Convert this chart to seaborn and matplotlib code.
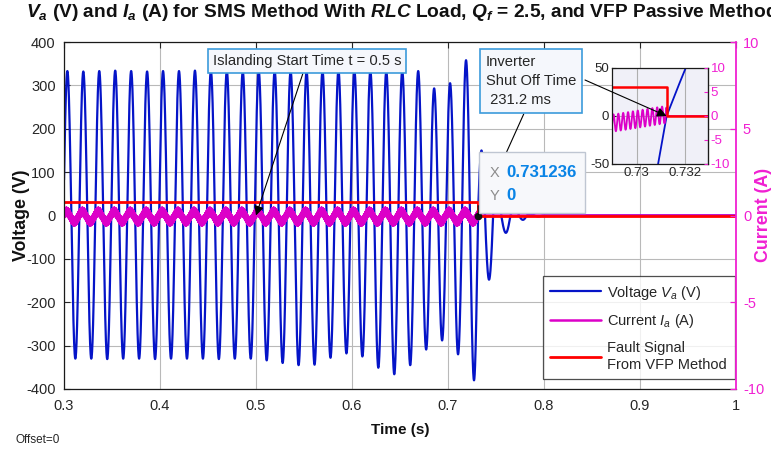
import numpy as np
import pandas as pd
import matplotlib
matplotlib.use("Agg")
import matplotlib.pyplot as plt
from matplotlib.patches import Rectangle
import seaborn as sns

# ---------------- data ----------------
shutoff_time = 0.731236          # inverter shut-off (datatip X)
islanding_time = 0.5
grid_freq = 60.2                 # Hz, fundamental
# alternating lobes before shut-off: trough, peak, trough, ... , peak, trough (V)
trough_v = [-330, -330, -330, -331, -330, -330, -331, -330, -330, -330, -331, -330, -330,
            -334, -340, -345, -344, -328, -318, -325, -351, -366, -345, -309, -288, -320, -380]
peak_v = [333, 332, 333, 334, 333, 332, 333, 333, 334, 333, 333, 332, 333,
          333, 333, 332, 333, 334, 333, 333, 332, 333, 333, 293, 305, 358]
# decaying voltage after shut-off: lobe end times (s) and lobe extremes (V)
decay_end_t = [0.7385, 0.7470, 0.7555, 0.7650, 0.7740, 0.7820, 0.7900, 0.7980]
decay_v = [150, -148, 60, -40, 15, -10, 4, -2]
# current (plotted in the voltage scale, as in the reference)
curr_offset = -2.5
curr_amp = 11.0
curr_lead = 0.001
ripple_amp = 9.0
ripple_freq = 5000.0
# fault signal from VFP method
fault_t = [0.3, shutoff_time, shutoff_time, 1.0]
fault_v = [30, 30, 0, 0]

x_ticks = [0.3, 0.4, 0.5, 0.6, 0.7, 0.8, 0.9, 1.0]
x_ticklabels = ["0.3", "0.4", "0.5", "0.6", "0.7", "0.8", "0.9", "1"]
yl_ticks = [-400, -300, -200, -100, 0, 100, 200, 300, 400]
yr_ticks = [-10, -5, 0, 5, 10]

# ---------------- build waveforms ----------------
half = 1.0 / (2 * grid_freq)
pre_amps = []
for k in range(len(peak_v)):
    pre_amps += [trough_v[k], peak_v[k]]
pre_amps.append(trough_v[-1])
n_pre = len(pre_amps)
edges = [shutoff_time - (n_pre - j) * half for j in range(n_pre + 1)]
edges += decay_end_t
amps = pre_amps + decay_v

t = np.arange(0.3, 1.0 + 1e-9, 1e-5)


def lobes(tt):
    v = np.zeros_like(tt)
    for a, b, A in zip(edges[:-1], edges[1:], amps):
        m = (tt >= a) & (tt < b)
        v[m] = A * np.sin(np.pi * (tt[m] - a) / (b - a))
    return v


volt = lobes(t)
curr = (curr_offset - curr_amp * np.sin(2 * np.pi * grid_freq * (t - edges[0] + curr_lead))
        + ripple_amp * np.sin(2 * np.pi * ripple_freq * t))
curr[t >= shutoff_time] = 0.0

df = pd.DataFrame({"t": t, "v": volt, "i": curr})
df_fault = pd.DataFrame({"t": fault_t, "f": fault_v})

# ---------------- style ----------------
sns.set_style("white")
plt.rcParams["font.family"] = ["Liberation Sans", "DejaVu Sans"]
plt.rcParams["mathtext.fontset"] = "custom"
plt.rcParams["mathtext.rm"] = "Liberation Sans"
plt.rcParams["mathtext.it"] = "Liberation Sans:italic"
plt.rcParams["mathtext.bf"] = "Liberation Sans:bold"
try:
    plt.rcParams["mathtext.bfit"] = "Liberation Sans:bold:italic"
    has_bfit = True
except Exception:
    has_bfit = False

BLUE = "#0514C8"
MAG = "#DC00C8"
AXMAG = "#F020D2"
RED = "#FF0000"
GRID = "#B9B9B9"
TXT = "#262626"

W, H = 771, 450
fig = plt.figure(figsize=(W / 100, H / 100), dpi=100)


def fx(px):
    return px / W


def fy(py):
    return 1 - py / H


ax = fig.add_axes([fx(64), fy(389), fx(736) - fx(64), fy(42) - fy(389)])

sns.lineplot(data=df, x="t", y="v", ax=ax, color=BLUE, linewidth=1.6,
             estimator=None, sort=False, label="Voltage $V_a$ (V)")
sns.lineplot(data=df, x="t", y="i", ax=ax, color=MAG, linewidth=1.8,
             estimator=None, sort=False, label="Current $I_a$ (A)")
sns.lineplot(data=df_fault, x="t", y="f", ax=ax, color=RED, linewidth=2.0,
             estimator=None, sort=False, label="Fault Signal\nFrom VFP Method")

ax.set_xlim(0.3, 1.0)
ax.set_ylim(-400, 400)
ax.set_xticks(x_ticks)
ax.set_xticklabels(x_ticklabels)
ax.set_yticks(yl_ticks)
ax.set_yticklabels([str(v) for v in yl_ticks])
ax.set_xlabel("")
ax.set_ylabel("")
ax.grid(True, color=GRID, linewidth=0.8)
ax.tick_params(direction="in", length=4, width=0.8, labelsize=10.5, colors=TXT,
               top=True, pad=6)
ax.tick_params(axis="x", pad=7)
for s in ["left", "bottom", "top"]:
    ax.spines[s].set_color("#1a1a1a")
    ax.spines[s].set_linewidth(0.9)
ax.spines["right"].set_visible(False)

# datatip marker
ax.plot([shutoff_time], [0], marker="o", ms=4.5, color="#111111", zorder=6)

# right axis (current)
axr = ax.twinx()
axr.set_ylim(-10, 10)
axr.set_yticks(yr_ticks)
axr.set_yticklabels([str(v) for v in yr_ticks])
axr.tick_params(direction="in", length=4, width=0.9, labelsize=10.5, colors=AXMAG, pad=5)
for s in ["left", "bottom", "top"]:
    axr.spines[s].set_visible(False)
axr.spines["right"].set_color(AXMAG)
axr.spines["right"].set_linewidth(1.3)
axr.grid(False)

# legend
leg = ax.legend(loc="lower right", bbox_to_anchor=(1.0, 0.025), fontsize=10.5,
                frameon=True, fancybox=False, edgecolor="#222222", handlelength=3.5,
                borderpad=0.5, labelspacing=0.75, handletextpad=0.45, borderaxespad=0.1)
leg.get_frame().set_linewidth(0.9)
leg.set_zorder(10)

# titles / labels
if has_bfit:
    title = (r"$\mathbfit{V}_{\mathbfit{a}}$ (V) and $\mathbfit{I}_{\mathbfit{a}}$ (A) for SMS Method With "
             r"$\mathbfit{RLC}$ Load, $\mathbfit{Q}_{\mathbfit{f}}$ = 2.5, and VFP Passive Method")
else:
    title = (r"$V_a$ (V) and $I_a$ (A) for SMS Method With $RLC$ Load, $Q_f$ = 2.5, and VFP Passive Method")
fig.text(fx(402), fy(17), title, ha="center", va="baseline", fontsize=13.8,
         fontweight="bold", color="#111111")
fig.text(fx(22), fy(215), "Voltage (V)", rotation=90, ha="center", va="center",
         fontsize=12.8, fontweight="bold", color="#111111")
fig.text(fx(763), fy(215), "Current (A)", rotation=90, ha="center", va="center",
         fontsize=12.8, fontweight="bold", color=AXMAG)
fig.text(fx(400), fy(430), "Time (s)", ha="center", va="center",
         fontsize=11, fontweight="bold", color="#111111")
fig.text(fx(15), fy(440), "Offset=0", ha="left", va="center", fontsize=8.5, color=TXT)

# annotation boxes
box_kw = dict(boxstyle="square,pad=0.35", fc="#F5F7FC", ec="#3C9BDB", lw=1.2)
arr_kw = dict(arrowstyle="-|>", color="black", lw=0.8, mutation_scale=14,
              shrinkA=0, shrinkB=0)
ax.annotate("Islanding Start Time t = 0.5 s", xy=(islanding_time, 0), xycoords="data",
            xytext=(307, H - 61), textcoords="figure pixels", ha="center", va="center",
            fontsize=10.6, color=TXT, bbox=box_kw, arrowprops=arr_kw, zorder=8,
            annotation_clip=False)
ax.annotate("Inverter\nShut Off Time\n 231.2 ms", xy=(shutoff_time, 0), xycoords="data",
            xytext=(486, H - 81), textcoords="figure pixels", ha="left", va="center",
            fontsize=10.6, color=TXT, linespacing=1.5,
            bbox=dict(boxstyle="square,pad=0.4", fc="#F5F7FC", ec="#3C9BDB", lw=1.2),
            arrowprops=dict(arr_kw, relpos=(0.45, 0.0)), zorder=8, annotation_clip=False)

# datatip box
fig.add_artist(Rectangle((fx(479), fy(213)), fx(585) - fx(479), fy(152) - fy(213),
                         transform=fig.transFigure, fc="#F7F8FB", ec="#BFC6D2", lw=1.0,
                         zorder=5))
fig.text(fx(490), fy(173), "X", ha="left", va="center", fontsize=10.5, color="#8C8C8C",
         zorder=6)
fig.text(fx(506), fy(173), "0.731236", ha="left", va="center", fontsize=12.2,
         fontweight="bold", color="#0A84E6", zorder=6)
fig.text(fx(490), fy(196), "Y", ha="left", va="center", fontsize=10.5, color="#8C8C8C",
         zorder=6)
fig.text(fx(506), fy(196), "0", ha="left", va="center", fontsize=12.2,
         fontweight="bold", color="#0A84E6", zorder=6)

# ---------------- inset ----------------
axi = fig.add_axes([fx(612), fy(164), fx(708) - fx(612), fy(68) - fy(164)], zorder=7)
axi.set_facecolor("#F0F0F8")
ti = df[(df.t > 0.7285) & (df.t < 0.7335)]
sns.lineplot(data=ti, x="t", y="v", ax=axi, color=BLUE, linewidth=1.3,
             estimator=None, sort=False, legend=False)
sns.lineplot(data=ti, x="t", y="i", ax=axi, color=MAG, linewidth=1.3,
             estimator=None, sort=False, legend=False)
sns.lineplot(data=df_fault, x="t", y="f", ax=axi, color=RED, linewidth=1.8,
             estimator=None, sort=False, legend=False)
axi.set_xlim(0.72899, 0.73294)
axi.set_ylim(-50, 50)
axi.set_xticks([0.73, 0.732])
axi.set_xticklabels(["0.73", "0.732"])
axi.set_yticks([-50, 0, 50])
axi.set_yticklabels(["-50", "0", "50"])
axi.set_xlabel("")
axi.set_ylabel("")
axi.grid(True, color="#AFAFAF", linewidth=0.8)
axi.tick_params(direction="in", length=3, labelsize=9.5, colors=TXT, pad=2)
for s in axi.spines.values():
    s.set_color("#1a1a1a")
    s.set_linewidth(0.9)
axir = axi.twinx()
axir.set_ylim(-10, 10)
axir.set_yticks(yr_ticks)
axir.set_yticklabels([str(v) for v in yr_ticks])
axir.tick_params(direction="in", length=3, labelsize=9.5, colors=AXMAG, pad=2)
axir.grid(False)
for s in ["left", "bottom", "top"]:
    axir.spines[s].set_visible(False)
axir.spines["right"].set_color("#1a1a1a")

axi.annotate("", xy=(shutoff_time, 0), xycoords="data", xytext=(585, H - 80),
             textcoords="figure pixels", arrowprops=arr_kw, annotation_clip=False)

fig.savefig("out.png", dpi=100)
